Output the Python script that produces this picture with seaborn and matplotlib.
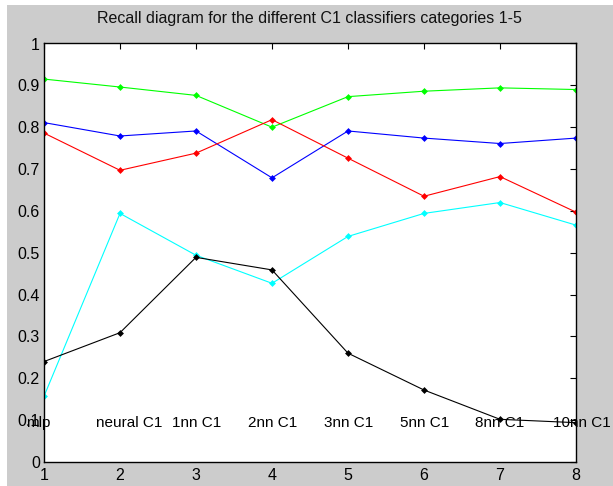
import matplotlib
matplotlib.use("Agg")
import matplotlib.pyplot as plt
import seaborn as sns
import pandas as pd
from matplotlib.patches import Rectangle

# ---- data ----
x_positions = [1, 2, 3, 4, 5, 6, 7, 8]
classifier_labels = ["mlp", "neural C1", "1nn C1", "2nn C1", "3nn C1", "5nn C1", "8nn C1", "10nn C1"]
cat_green = [0.915, 0.896, 0.876, 0.800, 0.873, 0.886, 0.894, 0.890]
cat_blue = [0.811, 0.779, 0.791, 0.679, 0.791, 0.774, 0.761, 0.774]
cat_red = [0.786, 0.697, 0.738, 0.818, 0.726, 0.635, 0.682, 0.597]
cat_cyan = [0.157, 0.594, 0.494, 0.427, 0.539, 0.594, 0.620, 0.566]
cat_black = [0.240, 0.309, 0.489, 0.459, 0.260, 0.172, 0.102, 0.094]
title_text = "Recall diagram for the different C1 classifiers categories 1-5"
y_ticks = [0, 0.1, 0.2, 0.3, 0.4, 0.5, 0.6, 0.7, 0.8, 0.9, 1]
y_tick_labels = ["0", "0.1", "0.2", "0.3", "0.4", "0.5", "0.6", "0.7", "0.8", "0.9", "1"]

series = {"green": cat_green, "blue": cat_blue, "red": cat_red,
          "cyan": cat_cyan, "black": cat_black}
rows = []
for name, vals in series.items():
    for xv, yv in zip(x_positions, vals):
        rows.append({"x": xv, "recall": yv, "series": name})
df = pd.DataFrame(rows)

sns.set_style("white")
plt.rcParams["font.family"] = ["Liberation Sans", "DejaVu Sans"]

W, H = 613, 486
fig = plt.figure(figsize=(W / 100, H / 100), dpi=100, facecolor="white")
fig.patches.append(Rectangle((7 / W, 0), 1 - 7 / W, 1 - 5 / H, transform=fig.transFigure,
                             facecolor="#cccccc", edgecolor="none", zorder=-10))

ax = fig.add_axes([44 / W, 1 - 462 / H, (576 - 44) / W, (462 - 43.5) / H])
ax.set_facecolor("white")

palette = {"green": "#00ff00", "blue": "#0000ff", "red": "#ff0000",
           "cyan": "#00ffff", "black": "#000000"}
sns.lineplot(data=df, x="x", y="recall", hue="series", palette=palette, ax=ax,
             marker="D", markersize=3.5, markeredgewidth=0, linewidth=0.8,
             legend=False, sort=False)

ax.set_xlim(1, 8)
ax.set_ylim(0, 1)
ax.set_xticks(x_positions)
ax.set_xticklabels([str(v) for v in x_positions])
ax.set_yticks(y_ticks)
ax.set_yticklabels(y_tick_labels)
ax.set_xlabel("")
ax.set_ylabel("")
for s in ax.spines.values():
    s.set_visible(True)
    s.set_color("black")
    s.set_linewidth(1.0)
ax.tick_params(direction="in", length=4, width=0.8, top=True, right=True,
               labelsize=11.5, colors="black", pad=3)
ax.tick_params(axis="x", pad=4)

# classifier name labels drawn inside the axes
label_offsets = [-0.08, 0.12, 0.01, 0.01, 0.01, 0.01, 0.0, 0.08]
for xv, lab, off in zip(x_positions, classifier_labels, label_offsets):
    ax.text(xv + off, 0.092, lab, ha="center", va="center", fontsize=11,
            color="black", clip_on=False)

fig.text(309 / W, 1 - 19 / H, title_text, ha="center", va="center", fontsize=11.5, color="#111111")

fig.savefig("out.png", dpi=100, facecolor=fig.get_facecolor())
